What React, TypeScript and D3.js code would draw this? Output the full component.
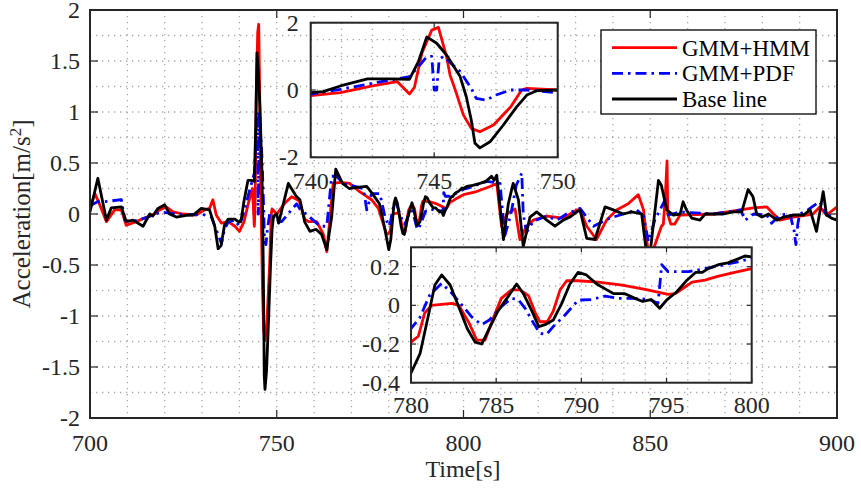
import React from 'react';
import * as d3 from 'd3';

type Pt = [number, number];

// GMM+HMM estimate [time s, acceleration m/s^2]
const hmmSeries: Pt[] = [
  [700, 0.06], [701.3, 0.2], [702.3, 0.12], [704.4, -0.075], [706.6, 0.04], [708.4, 0.04],
  [709.7, -0.11], [712.4, -0.075], [714.6, -0.04], [717.3, 0], [718.6, 0.04], [720.4, 0.07],
  [722.2, 0.02], [724.9, 0], [728.4, -0.01], [730.7, 0.04], [732, 0.055], [732.9, 0.14],
  [733.8, -0.01], [735.2, -0.09], [737, -0.075], [738.8, -0.12],
  [740, -0.17], [741.2, -0.08], [742.5, 0.12], [743.5, 0.25], [744, -0.12], [744.2, 0.08],
  [744.5, 1.09], [744.9, 1.78], [745.17, 1.86], [745.5, 0.99], [745.64, 0.45], [745.9, -0.1],
  [746.18, -0.74], [746.5, -1.14], [746.85, -1.24], [747.4, -1.04], [748.1, -0.5],
  [748.54, 0], [748.75, 0.05], [750, 0],
  [752, 0.1], [754, 0.17], [756, 0.13], [757.5, -0.05], [758.5, -0.075], [760.7, -0.075],
  [762.5, -0.2], [763.4, -0.37], [765.1, 0.3], [767, 0.31], [769.5, 0.3], [771.8, 0.23],
  [775.4, 0.14], [777.2, 0.055], [779.4, -0.2],
  [780, -0.19], [780.43, -0.16], [780.8, -0.04], [781.2, 0], [782.4, 0.01], [782.8, 0],
  [783.4, -0.09], [783.86, -0.18], [784.34, -0.18], [784.9, -0.05], [785.3, 0.036],
  [785.9, 0.08], [786.4, 0.08], [786.9, 0.05], [787.3, -0.04], [787.57, -0.085],
  [788, -0.085], [788.35, -0.03], [788.75, 0.08], [789.14, 0.127], [789.8, 0.127],
  [791, 0.12], [792.4, 0.105], [793.74, 0.083], [795.1, 0.057], [795.5, 0.06],
  [796.1, 0.096], [796.5, 0.12], [797.26, 0.13], [798, 0.15], [799, 0.17], [800, 0.19],
  [803.5, 0.22], [807.1, 0.27], [808.9, 0.3], [810.2, -0.12], [811.6, 0], [813.8, 0.05],
  [815.1, -0.25], [816.9, -0.12], [818.7, -0.06], [822.3, -0.02], [826.7, -0.04],
  [830.3, 0.04], [831.2, 0.04], [833, -0.12], [835.6, -0.25], [838.3, -0.06], [841, 0.04],
  [844.1, 0.1], [846.8, 0.19], [848.2, 0.04], [849.5, -0.4], [850.8, -0.35], [853, -0.12],
  [853.5, -0.1], [854, 0.15], [854.5, 0.52], [854.7, 0], [855.5, -0.1], [856.5, -0.1],
  [858, -0.01], [867, 0], [874.2, 0.04], [877.6, 0.06], [881.2, 0.07], [883, 0],
  [884.7, -0.06], [888.3, -0.03], [893.6, 0], [895.4, 0.07], [897.2, -0.01], [900, 0.07],
];

// GMM+PDF estimate
const pdfSeries: Pt[] = [
  [700, 0.08], [702, 0.12], [703.8, 0.12], [706, 0.13], [708.4, 0.14], [709.3, -0.06],
  [711, -0.075], [712.9, -0.06], [715.5, -0.03], [719.1, 0.02], [722.7, 0], [726.2, -0.01],
  [729.8, 0], [732.5, -0.03], [735.2, -0.29], [736, -0.15], [737, -0.08], [738.8, -0.06],
  [740, -0.12], [741.2, 0.02], [742.5, 0.2], [744, 0.4], [744.36, 0.69], [744.7, 0.99],
  [744.9, 1.0], [745, 0], [745.1, 0], [745.2, 0.9], [745.37, 1.0], [746.05, 0.55],
  [746.5, 0.05], [746.7, -0.25], [747.1, -0.3], [747.5, -0.15], [748.1, 0], [748.75, 0],
  [750, -0.08],
  [751.3, -0.075], [755.3, 0.1], [756.2, 0.05], [758.5, -0.02], [761.6, -0.12],
  [763.4, -0.12], [764.7, 0.37], [766, 0.37], [767.8, 0.3], [773.2, 0.25], [774.1, 0.04],
  [775.4, 0.2], [777.6, 0.2], [779, -0.03],
  [780, -0.12], [780.5, -0.067], [781.1, 0.053], [781.8, 0.114], [782.4, 0.062],
  [783.07, -0.007], [783.56, -0.06], [784.15, -0.1], [784.6, -0.076], [785.3, -0.007],
  [785.9, 0.036], [786.3, 0.03], [786.7, -0.016], [787.2, -0.093], [787.57, -0.145],
  [787.96, -0.15], [788.35, -0.11], [789.04, -0.05], [789.82, 0.027], [790.6, 0.03],
  [791.4, 0.048], [792.2, 0.036], [793.35, 0.036], [794.1, 0.027], [794.5, 0.01],
  [794.72, 0.21], [795.1, 0.174], [796.3, 0.174], [797.26, 0.19], [798.4, 0.21],
  [799.2, 0.225], [800, 0.243],
  [800.9, 0.25], [806.2, 0.32], [809.8, 0.3], [811, -0.22], [812.7, 0], [814.1, 0.28],
  [815.6, 0.4], [816, 0], [816.9, -0.18], [818.7, -0.07], [822.3, -0.02], [825, -0.06],
  [827.6, 0], [831.2, 0.055], [834.8, -0.12], [839.2, -0.04], [842.8, 0], [846.4, 0.04],
  [848.2, -0.02], [849.5, -0.27], [851.3, -0.05], [852.6, 0.04], [854, 0.14],
  [854.9, -0.01], [858, 0.02], [867, 0], [874.2, 0.04], [875.4, -0.06], [877.6, 0],
  [881.2, -0.01], [882.5, -0.09], [884.7, -0.01], [887.4, 0], [888.5, -0.16], [889, -0.3],
  [889.5, -0.1], [890, 0], [892.2, 0.04], [894.5, 0.1], [895.4, 0.12], [897.2, -0.01],
  [900, -0.03],
];

// measured base line
const baseSeries: Pt[] = [
  [700, 0.02], [702.1, 0.35], [704.4, -0.06], [705.7, 0.06], [708.4, 0.07], [709.7, -0.075],
  [711.5, -0.06], [714.2, -0.12], [716, 0], [716.8, -0.02], [718.2, 0.055], [720, 0.09],
  [721.3, 0], [723.1, -0.03], [726.2, -0.01], [727.6, -0.01], [729.8, 0.055], [732, 0.04],
  [733.4, -0.12], [734.3, -0.34], [735.1, -0.31], [736, -0.11], [737, -0.05], [738.8, -0.05],
  [739.5, -0.07],
  [740, -0.08], [740.5, -0.05], [741.2, 0.12], [742.3, 0.33], [743.1, 0.33], [744, 0.32],
  [744.36, 0.84], [744.7, 1.58], [745.1, 1.39], [745.5, 1.04], [746.05, 0.4], [746.3, -0.2],
  [746.5, -0.89], [746.65, -1.58], [746.85, -1.72], [747.26, -1.54], [747.8, -1.04],
  [748.34, -0.5], [748.75, -0.15], [749.15, -0.02], [750, 0],
  [750.5, -0.09], [753.1, 0.3], [755.3, 0.17], [756.2, 0.14], [757.5, -0.08], [758.9, -0.17],
  [760.5, -0.15], [762, -0.2], [763.4, -0.35], [764.7, -0.03], [765.8, 0.44], [767.6, 0.3],
  [769.4, 0.25], [771.5, 0.26], [774.1, 0.27], [775.6, 0.2], [777.5, 0.1], [778.8, -0.12],
  [780, -0.35], [780.53, -0.25], [781, -0.06], [781.4, 0.105], [781.8, 0.157],
  [782.3, 0.105], [782.8, -0.007], [783.3, -0.12], [783.76, -0.19], [784.15, -0.2],
  [784.54, -0.13], [785.1, -0.03], [785.7, 0.045], [786.2, 0.11], [786.6, 0.06],
  [787.1, -0.03], [787.5, -0.11], [787.87, -0.1], [788.35, -0.076], [788.85, 0.01],
  [789.33, 0.11], [789.8, 0.17], [790.3, 0.157], [790.9, 0.11], [791.5, 0.08],
  [791.9, 0.06], [792.56, 0.06], [793.15, 0.036], [793.6, 0.02], [794.1, 0.03],
  [794.6, -0.015], [795, 0.027], [795.6, 0.07], [796.2, 0.13], [796.7, 0.17], [797.1, 0.17],
  [797.45, 0.19], [798.04, 0.21], [798.6, 0.22], [799.2, 0.24], [799.6, 0.255], [800, 0.25],
  [800.9, 0.27], [802.5, 0.28], [804.4, 0.3], [806, 0.32], [807.5, 0.37], [808.2, 0.33],
  [808.9, 0.38], [810.7, -0.25], [812, 0.1], [813.3, 0.3], [814.7, 0.14], [816, -0.32],
  [817.8, -0.03], [819.6, 0.02], [822.3, -0.06], [824.5, -0.12], [826.7, -0.06],
  [828.5, -0.03], [830.3, 0.02], [831.2, 0.04], [833, -0.24], [835.2, -0.25], [837.9, 0.07],
  [840.1, 0.04], [842.8, 0], [845, 0.02], [847.7, 0], [849, -0.38], [849.9, -0.4],
  [852.2, 0.33], [853, 0.28], [854.4, 0.04], [856.2, -0.01], [858, 0], [858.8, 0.12],
  [859.7, 0.04], [861.1, -0.04], [863.3, -0.06], [864.7, 0], [866.9, 0], [869.6, 0],
  [872.2, 0.02], [874.5, 0.02], [876.2, 0.24], [877.5, 0.17], [878.5, 0], [879.9, -0.03],
  [881.7, 0], [883.9, -0.06], [885.7, -0.03], [888.3, -0.01], [891, -0.01], [892.8, 0.04],
  [894.5, -0.17], [895.4, 0.02], [896.3, 0.22], [897.2, -0.01], [898.5, -0.04], [900, -0.06],
];

const legendLabels = ['GMM+HMM', 'GMM+PDF', 'Base line'];

const mainXTicks = [700, 750, 800, 850, 900];
const mainYTicks = [-2, -1.5, -1, -0.5, 0, 0.5, 1, 1.5, 2];
const zoomAXTicks = [740, 745, 750];
const zoomAYTicks = [-2, 0, 2];
const zoomBXTicks = [780, 785, 790, 795, 800];
const zoomBYTicks = [-0.4, -0.2, 0, 0.2];

const FONT = "'Liberation Serif', 'Times New Roman', serif";
const AXIS = '#262626';

const seriesStyles = [
  { data: hmmSeries, color: '#ff0000', dash: undefined },
  { data: pdfSeries, color: '#0000ff', dash: '11 5 2.5 5' },
  { data: baseSeries, color: '#000000', dash: undefined },
];

type PanelProps = {
  id: string;
  left: number; right: number; top: number; bottom: number;
  xDomain: [number, number]; yDomain: [number, number];
  xTicks: number[]; yTicks: number[];
  xMinor: number; yMinor: number;
  tickLen: number;
  yLabelGap: number; xLabelY: number;
  background?: boolean;
};

const steps = (a: number, b: number, s: number) => {
  const n = Math.round((b - a) / s);
  return d3.range(n + 1).map(i => a + i * s);
};

const Panel = (p: PanelProps) => {
  const x = d3.scaleLinear().domain(p.xDomain).range([p.left, p.right]);
  const y = d3.scaleLinear().domain(p.yDomain).range([p.bottom, p.top]);
  const line = d3.line<Pt>().x(d => x(d[0])).y(d => y(d[1]));
  const gx = steps(p.xDomain[0], p.xDomain[1], p.xMinor);
  const gy = steps(p.yDomain[0], p.yDomain[1], p.yMinor);
  const w = p.right - p.left;
  const h = p.bottom - p.top;
  const t = p.tickLen;
  const fmt = (v: number) => String(+v.toFixed(2));

  return (
    <g>
      <defs>
        <clipPath id={p.id}>
          <rect x={p.left} y={p.top} width={w} height={h} />
        </clipPath>
      </defs>
      {p.background && <rect x={p.left} y={p.top} width={w} height={h} fill="#fff" />}
      <g stroke="#a8a8a8" strokeWidth={1.3} strokeDasharray="1.3 4.7">
        {gx.map(v => <line key={'gx' + v} x1={x(v)} x2={x(v)} y1={p.top} y2={p.bottom} />)}
        {gy.map(v => <line key={'gy' + v} x1={p.left} x2={p.right} y1={y(v)} y2={y(v)} />)}
      </g>
      <g clipPath={`url(#${p.id})`} fill="none" strokeLinejoin="round">
        {seriesStyles.map((s, i) => (
          <path key={i} d={line(s.data) || ''} stroke={s.color} strokeWidth={2.8}
            strokeDasharray={s.dash} />
        ))}
      </g>
      <g stroke={AXIS} strokeWidth={1.2}>
        {p.xTicks.map(v => (
          <g key={'tx' + v}>
            <line x1={x(v)} x2={x(v)} y1={p.bottom} y2={p.bottom - t} />
            <line x1={x(v)} x2={x(v)} y1={p.top} y2={p.top + t} />
          </g>
        ))}
        {p.yTicks.map(v => (
          <g key={'ty' + v}>
            <line x1={p.left} x2={p.left + t} y1={y(v)} y2={y(v)} />
            <line x1={p.right} x2={p.right - t} y1={y(v)} y2={y(v)} />
          </g>
        ))}
      </g>
      <rect x={p.left} y={p.top} width={w} height={h} fill="none" stroke={AXIS} strokeWidth={2} />
      {p.xTicks.map(v => (
        <text key={'lx' + v} x={x(v)} y={p.xLabelY} textAnchor="middle"
          style={{ fontFamily: FONT, fontSize: 24 }} fill={AXIS}>{fmt(v)}</text>
      ))}
      {p.yTicks.map(v => (
        <text key={'ly' + v} x={p.left - p.yLabelGap} y={y(v)} dy="0.33em" textAnchor="end"
          style={{ fontFamily: FONT, fontSize: 24 }} fill={AXIS}>{fmt(v)}</text>
      ))}
    </g>
  );
};

const Legend = () => {
  const rows = [47.7, 73.3, 99];
  return (
    <g>
      <rect x={601} y={30} width={215} height={84} fill="#fff" stroke="#000" strokeWidth={1.3} />
      {legendLabels.map((label, i) => (
        <g key={label}>
          <line x1={612} x2={677} y1={rows[i]} y2={rows[i]} stroke={seriesStyles[i].color}
            strokeWidth={2.8} strokeDasharray={seriesStyles[i].dash} />
          <text x={682} y={rows[i]} dy="0.35em" style={{ fontFamily: FONT, fontSize: 23 }}
            fill="#000">
            {label}
          </text>
        </g>
      ))}
    </g>
  );
};

export default function App() {
  return (
    <svg width={861} height={489} style={{ position: 'absolute', left: 0, top: 0, background: '#fff' }}>
      <Panel id="clip-main" left={90} right={837} top={10} bottom={418}
        xDomain={[700, 900]} yDomain={[-2, 2]} xTicks={mainXTicks} yTicks={mainYTicks}
        xMinor={10} yMinor={0.25} tickLen={8} yLabelGap={10} xLabelY={451} />
      <Panel id="clip-a" left={310.7} right={557.7} top={22.7} bottom={157.3}
        xDomain={[740, 750]} yDomain={[-2, 2]} xTicks={zoomAXTicks} yTicks={zoomAYTicks}
        xMinor={1.25} yMinor={0.5} tickLen={5} yLabelGap={12} xLabelY={189} background />
      <Panel id="clip-b" left={411} right={751.7} top={247.3} bottom={382.7}
        xDomain={[780, 800]} yDomain={[-0.4, 0.3]} xTicks={zoomBXTicks} yTicks={zoomBYTicks}
        xMinor={1.25} yMinor={0.1} tickLen={5} yLabelGap={11} xLabelY={413} background />
      <Legend />
      <text x={463} y={477} textAnchor="middle" style={{ fontFamily: FONT, fontSize: 24 }}
        fill={AXIS}>
        Time[s]
      </text>
      <text transform="translate(30,214) rotate(-90)" textAnchor="middle"
        style={{ fontFamily: FONT, fontSize: 25 }} fill={AXIS}>
        Acceleration[m/s<tspan dy={-9} style={{ fontSize: 17 }}>2</tspan><tspan dy={9}>]</tspan>
      </text>
    </svg>
  );
}
